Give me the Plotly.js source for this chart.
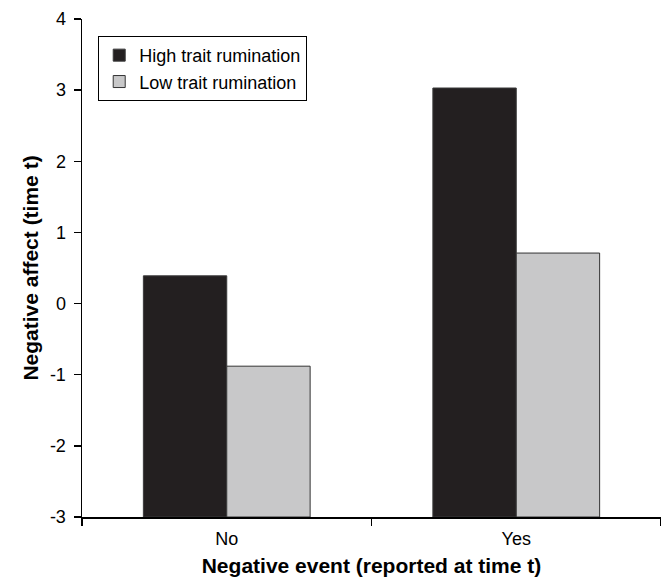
<!DOCTYPE html>
<html>
<head>
<meta charset="utf-8">
<script src="https://cdn.plot.ly/plotly-3.0.1.min.js"></script>
<style>html,body{margin:0;padding:0;background:#fff;}#chart{width:661px;height:577px;}</style>
</head>
<body>
<div id="chart"></div>
<script>
const categories = ['No', 'Yes'];
const highRumination = [0.39, 3.03];
const lowRumination = [-0.88, 0.71];
const seriesNames = ['High trait rumination', 'Low trait rumination'];
const yTicks = [-3, -2, -1, 0, 1, 2, 3, 4];
const axisFloor = -3;

const font = 'Arial, "Liberation Sans", sans-serif';

// Bars rise from the axis floor (-3), as in the reference
function fromFloor(values) { return values.map(v => v - axisFloor); }

const traces = [
  {
    type: 'bar', x: categories, y: fromFloor(highRumination), base: axisFloor,
    name: seriesNames[0],
    marker: {color: '#231f20', line: {color: '#3a3a3a', width: 1}}
  },
  {
    type: 'bar', x: categories, y: fromFloor(lowRumination), base: axisFloor,
    name: seriesNames[1],
    marker: {color: '#c8c8c9', line: {color: '#333333', width: 1}}
  }
];

const layout = {
  width: 661, height: 577,
  margin: {l: 82, r: 0, t: 19, b: 60},
  paper_bgcolor: '#fff', plot_bgcolor: '#fff',
  font: {family: font, size: 18, color: '#000'},
  barmode: 'group', bargap: 0.424, bargroupgap: 0,
  showlegend: true,
  legend: {
    x: 0.028, y: 0.966, xanchor: 'left', yanchor: 'top',
    bordercolor: '#000', borderwidth: 1, bgcolor: '#fff',
    font: {family: font, size: 18, color: '#000'},
    tracegroupgap: 0, itemwidth: 30
  },
  xaxis: {
    type: 'category',
    showline: true, linecolor: '#000', linewidth: 1.5,
    ticks: 'outside', tickson: 'boundaries', ticklen: 7, tickwidth: 1.5, tickcolor: '#000',
    ticklabelstandoff: 5,
    showgrid: false, zeroline: false,
    tickfont: {family: font, size: 18, color: '#000'},
    title: {text: '<b>Negative event (reported at time t)</b>', font: {family: font, size: 21, color: '#000'}, standoff: 10}
  },
  yaxis: {
    range: [-3, 4],
    tickvals: yTicks, ticktext: yTicks.map(String),
    showline: true, linecolor: '#000', linewidth: 1.5,
    ticks: 'outside', ticklen: 7, tickwidth: 1.5, tickcolor: '#000',
    ticklabelstandoff: 4,
    showgrid: false, zeroline: false,
    tickfont: {family: font, size: 18, color: '#000'},
    title: {text: '<b>Negative affect (time t)</b>', font: {family: font, size: 21, color: '#000'}, standoff: 5}
  }
};

Plotly.newPlot('chart', traces, layout, {displayModeBar: false, staticPlot: true});
</script>
</body>
</html>
